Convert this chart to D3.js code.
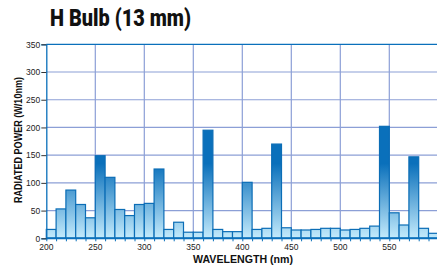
<!DOCTYPE html>
<html>
<head>
<meta charset="utf-8">
<script src="https://cdn.jsdelivr.net/npm/d3@7"></script>
<style>
body { margin:0; background:#fff; }
svg { display:block; font-family:"Liberation Sans", Arial, sans-serif; }
</style>
</head>
<body>
<svg id="chart"></svg>
<script>
// bins are 10 nm wide, starting at these wavelengths
var binStarts = [200,210,220,230,240,250,260,270,280,290,
                 300,310,320,330,340,350,360,370,380,390,
                 400,410,420,430,440,450,460,470,480,490,
                 500,510,520,530,540,550,560,570,580,590]
var power = [16,53,87,61,37,149,110,52,41,61,
             63,125,16,29,11,11,195,16,12,12,
             101,16,18,170,19,15,15,16,18,18,
             15,16,18,22,202,46,24,147,18,9]
var xTicks = [200,250,300,350,400,450,500,550]
var yTicks = [0,50,100,150,200,250,300,350]

var screen = {width:437, height:265}
var plot = {left:46.3, right:438.3, top:44.3, bottom:238.3}

var svg = d3.select("#chart")
    .attr("width",screen.width)
    .attr("height",screen.height)

var xScale = d3.scaleLinear().domain([200,600]).range([plot.left,plot.right])
var yScale = d3.scaleLinear().domain([0,350]).range([plot.bottom,plot.top])

// gradient runs over the value axis, light at 0, dark from ~130 up
var grad = svg.append("defs").append("linearGradient")
    .attr("id","barGrad")
    .attr("gradientUnits","userSpaceOnUse")
    .attr("x1",0).attr("x2",0)
    .attr("y1",yScale(0)).attr("y2",yScale(135))
grad.append("stop").attr("offset","0%").attr("stop-color","#c4ebfc")
grad.append("stop").attr("offset","100%").attr("stop-color","#0a70bb")

// grid
var grid = svg.append("g").classed("grid",true)
grid.selectAll("line.gx")
    .data(xTicks.slice(1))
    .enter().append("line")
    .attr("x1",function(d){ return xScale(d) })
    .attr("x2",function(d){ return xScale(d) })
    .attr("y1",plot.top).attr("y2",plot.bottom)
    .attr("stroke","#8c9fd6").attr("stroke-width",1.2)
grid.selectAll("line.gy")
    .data(yTicks.slice(1,-1))
    .enter().append("line")
    .attr("x1",plot.left).attr("x2",plot.right)
    .attr("y1",function(d){ return yScale(d) })
    .attr("y2",function(d){ return yScale(d) })
    .attr("stroke","#8c9fd6").attr("stroke-width",1.2)

// top border
svg.append("line")
    .attr("x1",plot.left).attr("x2",plot.right)
    .attr("y1",plot.top).attr("y2",plot.top)
    .attr("stroke","#0a70bb").attr("stroke-width",1.3)

// bars
svg.append("g").selectAll("rect")
    .data(power)
    .enter().append("rect")
    .attr("x",function(d,i){ return xScale(binStarts[i]) })
    .attr("y",function(d){ return yScale(d) })
    .attr("width",function(d,i){ return xScale(binStarts[i]+10)-xScale(binStarts[i]) })
    .attr("height",function(d){ return yScale(0)-yScale(d) })
    .attr("fill","url(#barGrad)")
    .attr("stroke","#0b6db6")
    .attr("stroke-width",1.2)

// x axis
var xAxis = svg.append("g")
    .attr("transform","translate(0,"+plot.bottom+")")
    .call(d3.axisBottom(xScale).tickValues(d3.range(200,600,10)).tickSize(3).tickFormat(""))
xAxis.select(".domain").remove()
xAxis.selectAll(".tick line").attr("stroke","#0a70bb")
svg.append("line")
    .attr("x1",plot.left).attr("x2",plot.right)
    .attr("y1",plot.bottom).attr("y2",plot.bottom)
    .attr("stroke","#0a70bb").attr("stroke-width",2)

svg.append("g").selectAll("text")
    .data(xTicks)
    .enter().append("text")
    .attr("x",function(d){ return xScale(d) })
    .attr("y",250)
    .attr("text-anchor","middle")
    .attr("font-size","8.5px")
    .attr("fill","#222")
    .text(function(d){ return d })

// y axis
var yAxis = svg.append("g")
    .attr("transform","translate("+plot.left+",0)")
    .call(d3.axisLeft(yScale).tickValues(yTicks).tickSize(5).tickPadding(1))
yAxis.select(".domain").attr("stroke","#0a70bb").attr("stroke-width",1.3)
yAxis.selectAll(".tick line").attr("stroke","#333")
yAxis.selectAll(".tick text")
    .attr("font-size","8.5px")
    .attr("font-family","'Liberation Sans', Arial, sans-serif")
    .attr("fill","#222")

// labels
svg.append("text")
    .text("H Bulb (13 mm)")
    .attr("x",50).attr("y",25.5)
    .attr("font-family","Roboto, 'Liberation Sans', Arial, sans-serif")
    .attr("font-weight","900")
    .attr("font-size","23px")
    .attr("textLength",141)
    .attr("lengthAdjust","spacingAndGlyphs")
    .attr("fill","#111")

svg.append("text")
    .text("WAVELENGTH (nm)")
    .attr("x",243).attr("y",262.5)
    .attr("text-anchor","middle")
    .attr("font-weight","bold")
    .attr("font-size","10.5px")
    .attr("textLength",100)
    .attr("lengthAdjust","spacingAndGlyphs")
    .attr("fill","#111")

svg.append("g")
    .attr("transform","translate(22,140)")
    .append("text")
    .text("RADIATED POWER (W/10nm)")
    .attr("text-anchor","middle")
    .attr("transform","rotate(-90)")
    .attr("font-weight","bold")
    .attr("font-size","10px")
    .attr("textLength",126)
    .attr("lengthAdjust","spacingAndGlyphs")
    .attr("fill","#111")
</script>
</body>
</html>
